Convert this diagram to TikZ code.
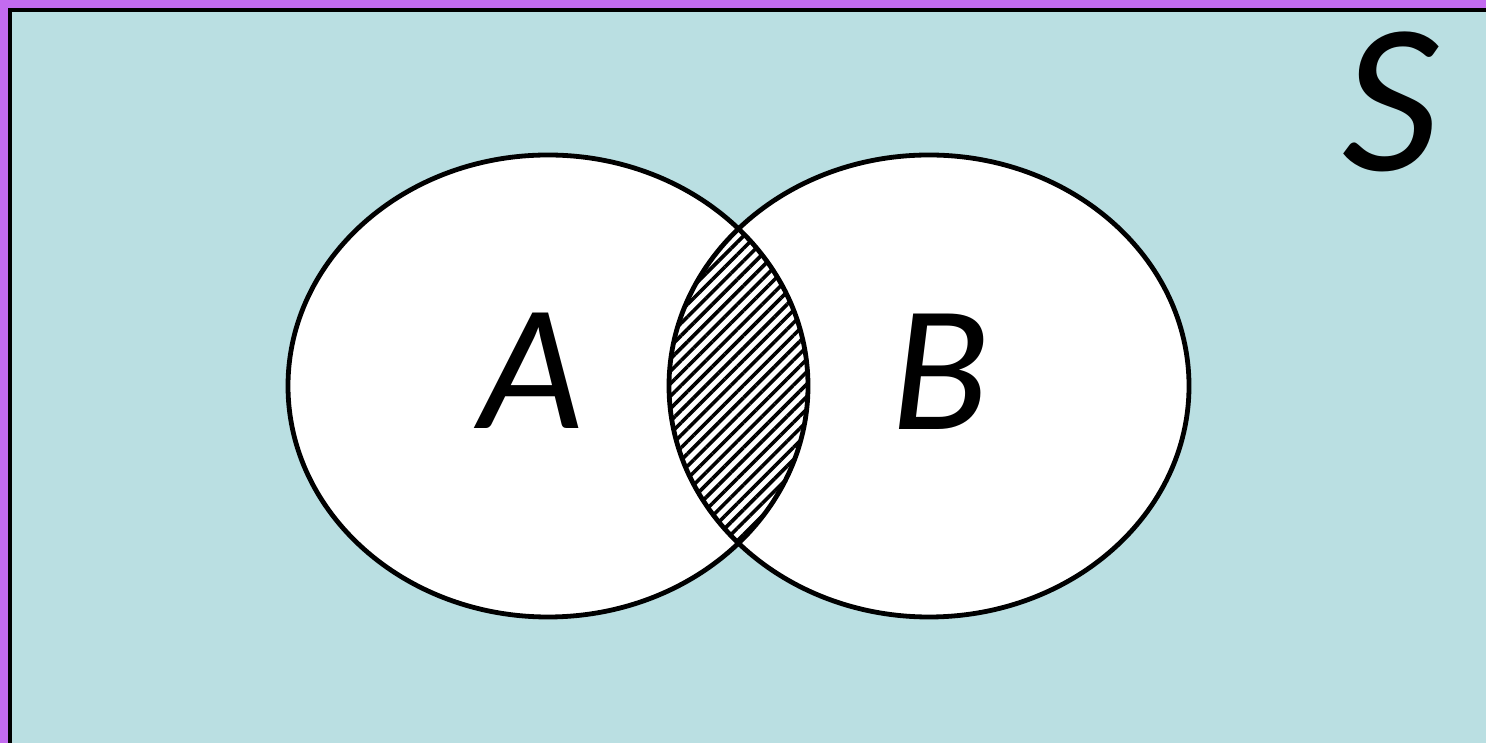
\documentclass[tikz,border=0pt]{standalone}
\usepackage{fontspec}
\setsansfont{Carlito}
\usetikzlibrary{patterns.meta}
\definecolor{framepurple}{RGB}{195,107,240}
\definecolor{spacecyan}{RGB}{186,223,226}
\tikzset{
  setline/.style={draw=black, line width=2.4pt},
  setlabel/.style={font=\sffamily\itshape\fontsize{90}{90}\selectfont, inner sep=0pt},
  hatchfill/.style={pattern={Lines[angle=45, distance=4.4pt, line width=1.8pt]}, pattern color=black}
}

\begin{document}
\begin{tikzpicture}[x=0.5pt, y=0.5pt]
  \useasboundingbox (0,0) rectangle (1486,743);
  \clip (0,0) rectangle (1486,743);
  % sample space
  \fill[framepurple] (0,0) rectangle (1486,743);
  \draw[line width=2pt, fill=spacecyan] (10,-20) rectangle (1510,733);

  \coordinate (cA) at (548,357);
  \coordinate (cB) at (929,357);

  % sets
  \fill[white] (cA) ellipse [x radius=260, y radius=231];
  \fill[white] (cB) ellipse [x radius=260, y radius=231];
  \begin{scope}
    \clip (cA) ellipse [x radius=260, y radius=231];
    \fill[hatchfill] (cB) ellipse [x radius=260, y radius=231];
  \end{scope}
  \draw[setline] (cA) ellipse [x radius=260, y radius=231];
  \draw[setline] (cB) ellipse [x radius=260, y radius=231];

  \node[setlabel] (labA) at (532,372) {A};
  \node[setlabel] (labB) at (940,371) {B};
  \node[setlabel, font=\sffamily\itshape\fontsize{107}{107}\selectfont] (labS) at (1391,641) {S};
\end{tikzpicture}
\end{document}
